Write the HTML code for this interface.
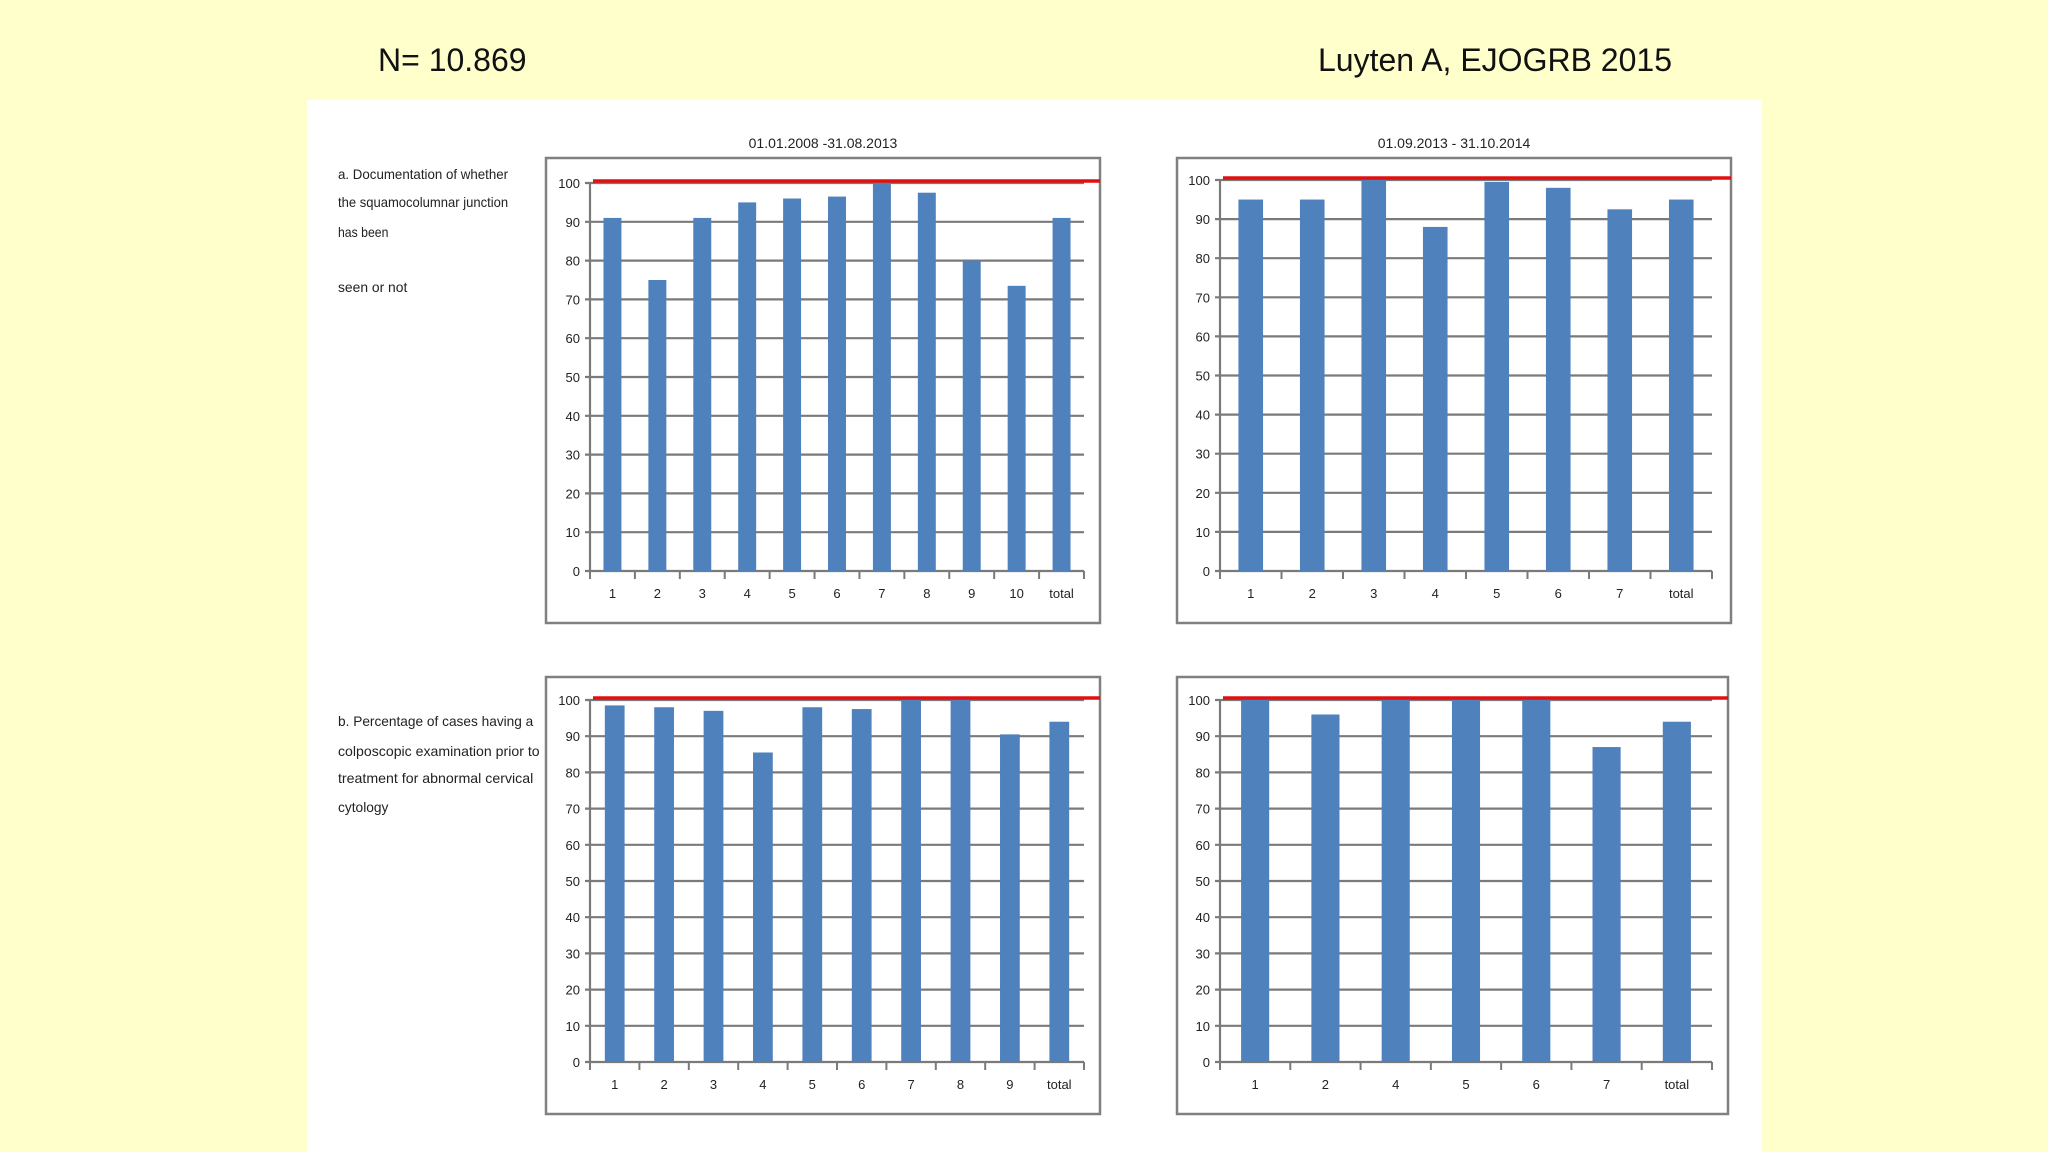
<!DOCTYPE html>
<html><head><meta charset="utf-8">
<style>
html,body{margin:0;padding:0;}
body{width:2048px;height:1152px;background:#ffffcc;position:relative;overflow:hidden;font-family:"Liberation Sans",sans-serif;}
#panel{position:absolute;left:307px;top:100px;width:1455px;height:1052px;background:#fff;}
.hdr{position:absolute;font-size:32px;color:#111;top:42px;}
svg{position:absolute;left:0;top:0;}
</style></head>
<body>
<div class="hdr" style="left:378px;">N= 10.869</div>
<div class="hdr" style="left:1318px;">Luyten A, EJOGRB 2015</div>
<div id="panel"></div>
<svg id="fig" width="2048" height="1152"></svg>
<script>
const catsA1 = ["1","2","3","4","5","6","7","8","9","10","total"];
const valsA1 = [91,75,91,95,96,96.5,100,97.5,80,73.5,91];
const catsA2 = ["1","2","3","4","5","6","7","total"];
const valsA2 = [95,95,100,88,99.5,98,92.5,95];
const catsB1 = ["1","2","3","4","5","6","7","8","9","total"];
const valsB1 = [98.5,98,97,85.5,98,97.5,100,100,90.5,94];
const catsB2 = ["1","2","4","5","6","7","total"];
const valsB2 = [100,96,100,100,100,87,94];
const yTicks = [0,10,20,30,40,50,60,70,80,90,100];
const targetValue = 100;

const NS="http://www.w3.org/2000/svg";
const svg=document.getElementById('fig');
function mk(tag,attrs,parent){const e=document.createElementNS(NS,tag);for(const k in attrs)e.setAttribute(k,attrs[k]);(parent||svg).appendChild(e);return e;}

function chart(name,frame,plot,cats,vals,title){
  const g=mk('g',{});
  
  
  const fr=mk('rect',{x:frame[0],y:frame[1],width:frame[2]-frame[0],height:frame[3]-frame[1],fill:'#fff',stroke:'#808080','stroke-width':2.5},g);
  
  
  const [x0,x1,yTop,yBot]=plot;
  const yS=v=>yBot-(v/100)*(yBot-yTop);
  const cw=(x1-x0)/cats.length;
  const xS=i=>x0+cw*(i+0.5);
  yTicks.forEach(t=>{
    const y=yS(t);
    const l=mk('line',{x1:x0-5,x2:x1,y1:y,y2:y,stroke:'#7a7a7a','stroke-width':2.2},g);
    
    
    const tx=mk('text',{x:x0-10,y:y+5,'text-anchor':'end','font-size':13,fill:'#222'},g);
    tx.textContent=t;
    
    
  });
  mk('line',{x1:x0,x2:x0,y1:yTop,y2:yBot,stroke:'#7a7a7a','stroke-width':2.2},g);
  for(let i=0;i<=cats.length;i++){
    const x=x0+cw*i;
    mk('line',{x1:x,x2:x,y1:yBot,y2:yBot+8,stroke:'#7a7a7a','stroke-width':2},g);
  }
  cats.forEach((c,i)=>{
    const bw=cw*0.4;
    const b=mk('rect',{x:xS(i)-bw/2,y:yS(vals[i]),width:bw,height:yBot-yS(vals[i]),fill:'#4f81bd'},g);
    
    
    const t=mk('text',{x:xS(i),y:yBot+27,'text-anchor':'middle','font-size':13,fill:'#222'},g);
    t.textContent=c;
    
    
  });
  const r=mk('line',{x1:x0+3,x2:frame[2],y1:yS(targetValue)-2,y2:yS(targetValue)-2,stroke:'#e01010','stroke-width':3.5},g);
  
  
  if(title){
    const t=mk('text',{x:(frame[0]+frame[2])/2,y:frame[1]-10,'text-anchor':'middle','font-size':14,fill:'#222'},g);
    t.textContent=title;
    
    
  }
}
chart('chart-a-period1',[546,158,1100,623],[590,1084,183,571],catsA1,valsA1,'01.01.2008 -31.08.2013');
chart('chart-a-period2',[1177,158,1731,623],[1220,1712,180,571],catsA2,valsA2,'01.09.2013 - 31.10.2014');
chart('chart-b-period1',[546,677,1100,1114],[590,1084,700,1062],catsB1,valsB1,null);
chart('chart-b-period2',[1177,677,1728,1114],[1220,1712,700,1062],catsB2,valsB2,null);

function label(name,lines,ys){
  const g=mk('g',{});
  
  
  lines.forEach((s,i)=>{
    const t=mk('text',{x:338,y:ys[i],'font-size':14,fill:'#222',textLength:s.length>12?Math.min(s.length*6.3,206):s.length*6.3,lengthAdjust:'spacingAndGlyphs'},g);
    t.textContent=s;
  });
}
label('indicator-a-label',["a. Documentation of whether","the squamocolumnar junction","has been","seen or not"],[179,207,237,292]);
label('indicator-b-label',["b. Percentage of cases having a","colposcopic examination prior to","treatment for abnormal cervical","cytology"],[726,756,783,812]);
</script>
</body></html>
